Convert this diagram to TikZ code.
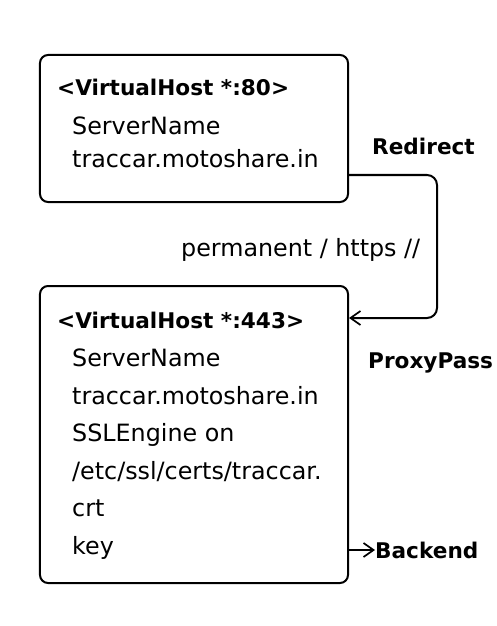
\documentclass[tikz,border=0pt]{standalone}
\usepackage{fontspec}
\setmainfont{DejaVu Sans}
\usetikzlibrary{arrows.meta}
\begin{document}
\begin{tikzpicture}[x=1bp,y=-1bp,
  box/.style={draw=black,line width=2bp,rounded corners=8bp,inner sep=0pt},
  hdr/.style={anchor=base west,inner sep=0pt,font=\fontsize{21.6bp}{24bp}\selectfont\bfseries},
  txt/.style={anchor=base west,inner sep=0pt,font=\fontsize{23.8bp}{26bp}\selectfont},
  lbl/.style={anchor=base west,inner sep=0pt,font=\fontsize{21.6bp}{24bp}\selectfont\bfseries},
  conn/.style={line width=2bp,rounded corners=10bp},
  tip/.style={-{Straight Barb[length=10bp,width=14bp,line width=1.7bp]}}
]
\useasboundingbox (0,0) rectangle (497,626);
% boxes
\node[box,minimum width=308bp,minimum height=147bp] (b1) at (194,128.5) {};
\node[box,minimum width=308bp,minimum height=297bp] (b2) at (194,434.5) {};
% box 1 text
\node[hdr] (h1) at (57,96) {<VirtualHost *:80>};
\node[txt] (t11) at (72,135) {ServerName};
\node[txt] (t12) at (72,168) {traccar.motoshare.in};
% box 2 text
\node[hdr] (h2) at (57,328) {<VirtualHost *:443>};
\node[txt] (t21) at (72,366) {ServerName};
\node[txt] (t22) at (72,404) {traccar.motoshare.in};
\node[txt] (t23) at (72,441) {SSLEngine on};
\node[txt] (t24) at (72,479) {/etc/ssl/certs/traccar.};
\node[txt] (t25) at (72,516) {crt};
\node[txt] (t26) at (72,554) {key};
% labels
\node[lbl] (redir) at (372,155) {Redirect};
\node[txt] (perm) at (181,256) {permanent / https //};
\node[lbl] (proxy) at (368,368) {ProxyPass};
\node[lbl] (backend) at (375,558) {Backend};
% connectors
\coordinate (r1) at (b1.east |- 0,175);
\coordinate (k1) at (437,175);
\coordinate (k2) at (437,318);
\coordinate (r2) at (b2.east |- 0,318);
\draw[conn,tip] (r1) -- (k1) -- (k2) -- (r2);
\coordinate (s1) at (b2.east |- 0,550);
\draw[conn,tip] (s1) -- (backend.west |- s1);
\end{tikzpicture}
\end{document}
